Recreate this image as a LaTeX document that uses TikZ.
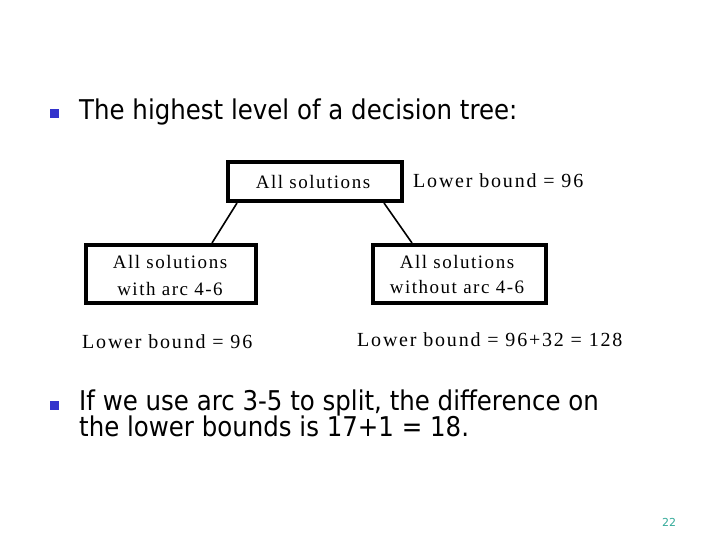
\documentclass[tikz,border=0pt]{standalone}
\usepackage{fontspec}
\setsansfont{DejaVu Sans}
\newfontfamily\bulletfont[FakeStretch=0.9]{DejaVu Sans}
\newfontfamily\boxfont[LetterSpace=8]{Liberation Serif}
\newfontfamily\boundfont[LetterSpace=9]{Liberation Serif}
\definecolor{bulletblue}{RGB}{51,51,204}
\definecolor{pagenum}{RGB}{51,170,153}
\tikzset{
  treebox/.style={draw=black, line width=4pt, inner sep=0pt},
  link/.style={draw=black, line width=1.6pt},
  boxtext/.style={font=\boxfont\fontsize{19}{27}\selectfont, align=center, inner sep=0pt},
  boundtext/.style={font=\boundfont\fontsize{20}{22}\selectfont, inner sep=0pt, anchor=base west},
  bullettext/.style={font=\bulletfont\fontsize{27.2}{25}\selectfont, inner sep=0pt, anchor=base west, align=left},
  bulletsq/.style={fill=bulletblue, minimum size=9pt, inner sep=0pt},
}
\begin{document}
\begin{tikzpicture}[x=1pt,y=-1pt]
\useasboundingbox (0,0) rectangle (720,540);
% bullets
\node[bulletsq] (b1) at (54,114) {};
\node[bulletsq] (b2) at (54,405) {};
\node[bullettext] (t1) at (79,120) {The highest level of a decision tree:};
\node[bullettext] (t2) at (79,410) {If we use arc 3-5 to split, the difference on};
\node[bullettext] (t3) at (79,436) {the lower bounds is 17+1 = 18.};
% boxes
\node[treebox, minimum width=174pt, minimum height=39pt] (top) at (315,181.5) {};
\node[treebox, minimum width=170pt, minimum height=58pt] (left) at (171,274) {};
\node[treebox, minimum width=173pt, minimum height=58pt] (right) at (459.5,274) {};
% box texts
\node[boxtext, anchor=base] (ttop) at (313,189) {All solutions};
\node[boxtext, anchor=base] (tl1) at (170,268) {All solutions};
\node[boxtext, anchor=base] (tl2) at (170,295) {with arc 4-6};
\node[boxtext, anchor=base] (tr1) at (457,268) {All solutions};
\node[boxtext, anchor=base] (tr2) at (457,293) {without arc 4-6};
% bounds
\node[boundtext] (lb0) at (413,188) {Lower bound = 96};
\node[boundtext] (lb1) at (82,348) {Lower bound = 96};
\node[boundtext] (lb2) at (357,346) {Lower bound = 96+32 = 128};
% connectors
\draw[link] ([xshift=11pt]top.south west) -- ([xshift=128pt]left.north west);
\draw[link] ([xshift=158pt]top.south west) -- ([xshift=41pt]right.north west);
% page number
\node[font=\sffamily\fontsize{11}{13}\selectfont, text=pagenum, inner sep=0pt] (pg) at (669,522) {22};
\end{tikzpicture}
\end{document}
